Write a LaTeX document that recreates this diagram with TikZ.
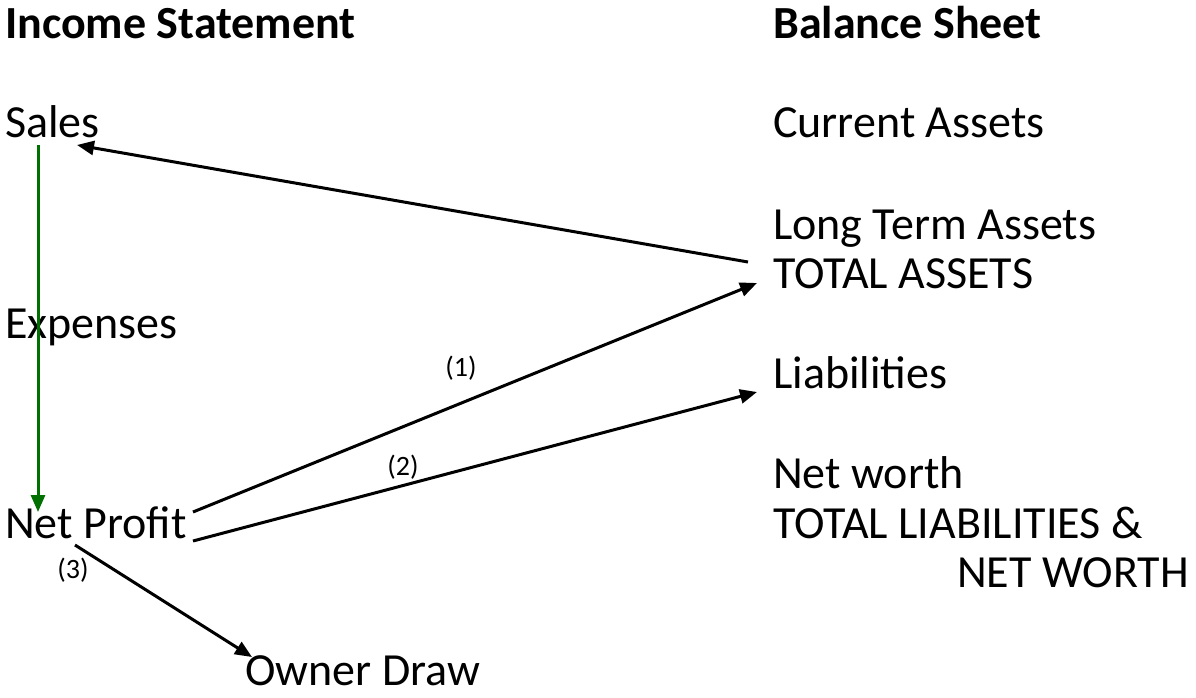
\documentclass[tikz,border=0pt]{standalone}
\usepackage{fontspec}
\setmainfont{Carlito}
\usetikzlibrary{arrows.meta}
\definecolor{arrowgreen}{RGB}{0,112,0}
\begin{document}
\begin{tikzpicture}[x=1pt,y=-1pt,
  lbl/.style={anchor=base west,inner sep=0pt,font=\fontsize{46}{50}\selectfont},
  hdr/.style={lbl,font=\fontsize{46}{50}\selectfont\bfseries},
  num/.style={inner sep=0pt,font=\fontsize{28}{32}\selectfont},
  conn/.style={line width=3pt,-{Triangle[length=17pt,width=14pt]}},
  gconn/.style={conn,draw=arrowgreen,-{Triangle[length=17pt,width=14pt,fill=arrowgreen]}}]
\useasboundingbox (0,0) rectangle (1196,697);
\node[hdr] (inc) at (5,38) {Income Statement};
\node[hdr] (bal) at (773,38) {Balance Sheet};
\node[lbl] (sales) at (5,137) {Sales};
\node[lbl] (cur) at (773,137) {Current Assets};
\node[lbl] (lta) at (773,239) {Long Term Assets};
\node[lbl] (ta) at (773,288) {TOTAL ASSETS};
\node[lbl] (exp) at (5,338) {Expenses};
\node[lbl] (liab) at (773,388) {Liabilities};
\node[lbl] (nw) at (773,488) {Net worth};
\node[lbl] (tl) at (773,538) {TOTAL LIABILITIES \&};
\node[lbl] (tnw) at (957,587) {NET WORTH};
\node[lbl] (np) at (5,538) {Net Profit};
\node[lbl] (od) at (245,685) {Owner Draw};
\node[num] (n1) at (461,368) {(1)};
\node[num] (n2) at (403,467) {(2)};
\node[num] (n3) at (73,570) {(3)};
\coordinate (gs) at (38,145);
\coordinate (ge) at (38,512);
\coordinate (ls) at (748,262);
\coordinate (le) at (77,145);
\coordinate (a1s) at (193,512);
\coordinate (a1e) at (757,283);
\coordinate (a2s) at (193,541);
\coordinate (a2e) at (757,392);
\coordinate (a3s) at (75,545);
\coordinate (a3e) at (252,657);
\draw[gconn] (gs) -- (ge);
\draw[conn] (ls) -- (le);
\draw[conn] (a1s) -- (a1e);
\draw[conn] (a2s) -- (a2e);
\draw[conn] (a3s) -- (a3e);
\end{tikzpicture}
\end{document}
